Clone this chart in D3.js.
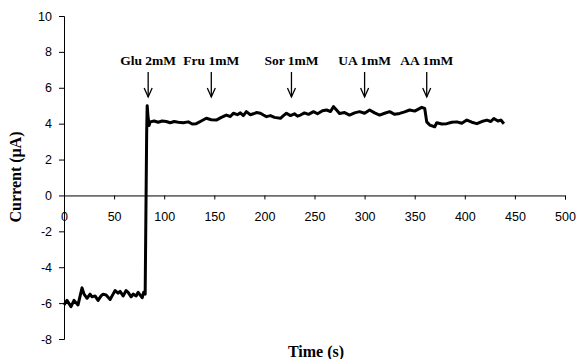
<!DOCTYPE html>
<html>
<head>
<meta charset="utf-8">
<script src="https://cdn.jsdelivr.net/npm/d3@7"></script>
<style>
  body { margin: 0; background: #fff; }
  svg { display: block; }
  .tick text { font-family: "Liberation Sans", Arial, sans-serif; font-size: 12.5px; fill: #000; }
  .ann, .title { font-family: "Liberation Serif", "Times New Roman", serif; font-weight: bold; fill: #000; }
</style>
</head>
<body>
<svg id="chart" width="577" height="359"></svg>
<script>
const timeS = [0, 3, 7, 10, 14, 18, 20, 23, 26, 28, 31, 34, 37, 39, 42, 46, 49, 51, 54, 56, 59, 62, 64, 67, 69, 72, 74, 78, 79.5, 81, 82.5, 83, 84, 85, 86, 90, 94, 98, 102, 106, 110, 114, 119, 124, 128, 132, 137, 142, 147, 152, 157, 162, 166, 169, 173, 176, 179, 182, 186, 189, 192, 196, 199, 202, 206, 210, 216, 219, 222, 226, 230, 233, 236, 240, 244, 249, 253, 258, 262, 266, 269, 272, 275, 280, 285, 290, 295, 300, 305, 310, 315, 320, 325, 330, 335, 340, 345, 350, 357, 360, 362, 365, 370, 372, 377, 382, 387, 392, 397, 402, 407, 412, 417, 422, 426, 429, 433, 436, 439]
const current = [-6.1, -5.85, -6.2, -5.85, -6.1, -5.15, -5.5, -5.73, -5.5, -5.65, -5.6, -5.85, -5.6, -5.5, -5.55, -5.8, -5.5, -5.3, -5.45, -5.35, -5.6, -5.3, -5.4, -5.65, -5.5, -5.6, -5.4, -5.7, -5.4, -5.5, 3.5, 5.0, 4.3, 3.9, 4.1, 4.15, 4.08, 4.15, 4.12, 4.05, 4.12, 4.08, 4.05, 4.1, 3.98, 4.0, 4.15, 4.3, 4.22, 4.2, 4.35, 4.48, 4.4, 4.58, 4.5, 4.6, 4.45, 4.67, 4.5, 4.55, 4.62, 4.58, 4.48, 4.39, 4.45, 4.35, 4.3, 4.45, 4.58, 4.45, 4.55, 4.42, 4.48, 4.6, 4.52, 4.67, 4.55, 4.72, 4.76, 4.68, 4.95, 4.76, 4.57, 4.62, 4.48, 4.6, 4.67, 4.58, 4.76, 4.6, 4.48, 4.58, 4.67, 4.52, 4.57, 4.66, 4.76, 4.7, 4.91, 4.85, 4.1, 3.92, 3.83, 4.05, 3.98, 4.0, 4.08, 4.1, 4.02, 4.2, 4.08, 4.0, 4.12, 4.2, 4.12, 4.29, 4.15, 4.2, 4.0]

const annLabels = ["Glu 2mM", "Fru 1mM", "Sor 1mM", "UA 1mM", "AA 1mM"]
const annTimes = [84, 147, 227, 300, 362]

const xTicks = [0, 50, 100, 150, 200, 250, 300, 350, 400, 450, 500]
const yTicks = [-8, -6, -4, -2, 0, 2, 4, 6, 8, 10]

const svg = d3.select("#chart")

const x = d3.scaleLinear().domain([0, 500]).range([64, 565])
const y = d3.scaleLinear().domain([-8, 10]).range([339, 16])

// plain hyphen for negatives, like the original
const fmt = d => String(d)

// y axis, ticks outward to the left
svg.append("g")
  .attr("transform", "translate(" + x(0) + ",0)")
  .call(d3.axisLeft(y).tickValues(yTicks).tickSize(5).tickPadding(7).tickFormat(fmt))
  .call(g => g.selectAll("path, line").attr("stroke", "#000"))

// x axis sits on zero, ticks hang down, labels lower
svg.append("g")
  .attr("transform", "translate(0," + y(0) + ")")
  .call(d3.axisBottom(x).tickValues(xTicks).tickSize(4).tickPadding(13).tickSizeOuter(4).tickFormat(fmt))
  .call(g => g.selectAll("path, line").attr("stroke", "#000"))

// trace
const pts = timeS.map((t, i) => [t, current[i]])
svg.append("path")
  .datum(pts)
  .attr("fill", "none")
  .attr("stroke", "#000")
  .attr("stroke-width", 3)
  .attr("stroke-linejoin", "round")
  .attr("d", d3.line().x(d => x(d[0])).y(d => y(d[1])))

// injection arrows
const ann = svg.selectAll(".annG").data(annTimes).enter().append("g")
  .attr("transform", d => "translate(" + x(d) + ",0)")
ann.append("text")
  .attr("class", "ann")
  .attr("y", 64.5)
  .attr("text-anchor", "middle")
  .attr("font-size", 13.5)
  .text((d, i) => annLabels[i])
ann.append("line")
  .attr("y1", 72).attr("y2", 97)
  .attr("stroke", "#000").attr("stroke-width", 1.3)
ann.append("path")
  .attr("d", "M-4,88 L0,97 L4,88")
  .attr("fill", "none").attr("stroke", "#000").attr("stroke-width", 1.3)

// titles
svg.append("text")
  .attr("class", "title")
  .attr("transform", "translate(21,177) rotate(-90)")
  .attr("text-anchor", "middle")
  .attr("font-size", 16)
  .text("Current (\u03bcA)")
svg.append("text")
  .attr("class", "title")
  .attr("x", 316).attr("y", 357)
  .attr("text-anchor", "middle")
  .attr("font-size", 16)
  .text("Time (s)")
</script>
</body>
</html>
